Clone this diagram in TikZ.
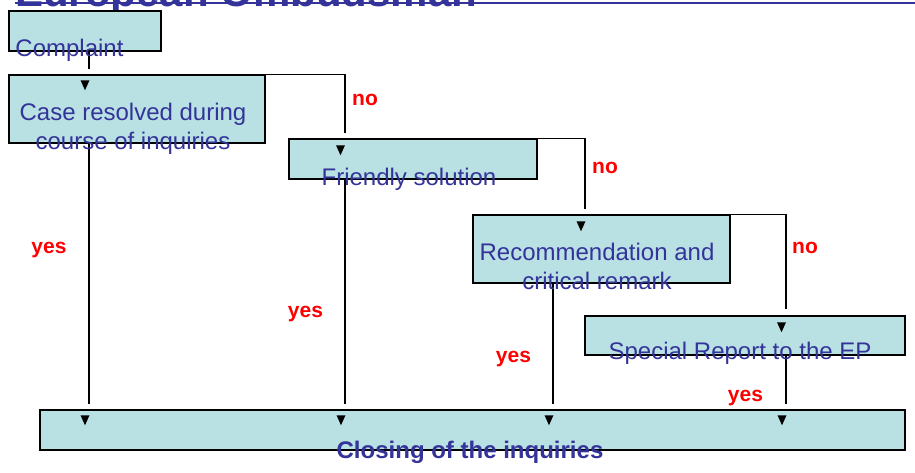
\documentclass[tikz,border=0pt]{standalone}
\usepackage{fontspec}
\setmainfont{Liberation Sans}
\usetikzlibrary{positioning}
\definecolor{ombblue}{RGB}{51,51,153}
\definecolor{boxfill}{RGB}{185,224,227}

\tikzset{
  stage/.style={draw, line width=1.5pt, fill=boxfill, inner sep=0pt},
  boxtext/.style={text=ombblue, font=\fontsize{24}{29}\selectfont, inner sep=0pt, anchor=base, align=center},
  answer/.style={text=red, font=\bfseries\fontsize{21}{25}\selectfont, inner sep=0pt, anchor=base},
  flow/.style={line width=1.5pt},
  downtip/.pic={\fill (-4.5,0) -- (4.5,0) -- (0,10) -- cycle;}
}

\begin{document}
\begin{tikzpicture}[x=1pt, y=-1pt]
    \useasboundingbox (0,0) rectangle (915,472);
    \clip (0,0) rectangle (915,472);

    % title, cut off at the top
    \node[text=ombblue, font=\bfseries\fontsize{42}{50}\selectfont, inner sep=0pt, anchor=base west] (title) at (15,6) {European Ombudsman};
    \draw[ombblue, line width=2pt] (15,3) -- (915,3);

    % boxes
    \node[stage, minimum width=152pt, minimum height=40pt] (complaint) at (85,31) {};
    \node[stage, minimum width=256pt, minimum height=68pt] (case) at (137,109) {};
    \node[stage, minimum width=248pt, minimum height=40pt] (friendly) at (413,159) {};
    \node[stage, minimum width=257pt, minimum height=68pt] (rec) at (601.5,249) {};
    \node[stage, minimum width=320pt, minimum height=39pt] (special) at (745,335.5) {};
    \node[stage, minimum width=865pt, minimum height=40pt] (closing) at (472.5,430) {};

    % connector ends
    \coordinate (c0) at (89,69);
    \coordinate (c1) at (345,133);
    \coordinate (c2) at (585,209);
    \coordinate (c3) at (786,309);
    \coordinate (e1) at (89,404);
    \coordinate (e2) at (345,404);
    \coordinate (e3) at (553,404);
    \coordinate (e4) at (786,404);

    \draw[flow] (complaint.south -| c0) -- (c0);
    \draw[flow] (case.north east) -| (c1);
    \draw[flow] (friendly.north east) -| (c2);
    \draw[flow] (rec.north east) -| (c3);
    \draw[flow] (case.south -| e1) -- (e1);
    \draw[flow] (friendly.south -| e2) -- (e2);
    \draw[flow] (rec.south -| e3) -- (e3);
    \draw[flow] (special.south -| e4) -- (e4);

    % arrow heads inside the boxes
    \pic[xshift=-4pt, yshift=-6pt] at (c0 |- case.north) {downtip};
    \pic[xshift=-4.5pt, yshift=-7pt] at (c1 |- friendly.north) {downtip};
    \pic[xshift=-4pt, yshift=-7pt] at (c2 |- rec.north) {downtip};
    \pic[xshift=-4.5pt, yshift=-7pt] at (c3 |- special.north) {downtip};
    \foreach \e in {e1,e2,e3,e4}
      \pic[xshift=-4pt, yshift=-6pt] at (\e |- closing.north) {downtip};

    % box texts
    \node[boxtext] (complainttext) at (69.5,56) {Complaint};
    \node[boxtext] (casetext) at (133,149) {Case resolved during\\course of inquiries};
    \node[boxtext] (friendlytext) at (409,185) {Friendly solution};
    \node[boxtext] (rectext) at (597,289) {Recommendation and\\critical remark};
    \node[boxtext] (specialtext) at (740,359) {Special Report to the EP};
    \node[boxtext, font=\bfseries\fontsize{24}{29}\selectfont] (closingtext) at (470,458) {Closing of the inquiries};

    % answers
    \node[answer] (no1) at (365,105) {no};
    \node[answer] (no2) at (605,173) {no};
    \node[answer] (no3) at (805,253) {no};
    \node[answer] (yes1) at (49,253) {yes};
    \node[answer] (yes2) at (305.5,317) {yes};
    \node[answer] (yes3) at (513.5,362) {yes};
    \node[answer] (yes4) at (745.5,401) {yes};
\end{tikzpicture}
\end{document}
